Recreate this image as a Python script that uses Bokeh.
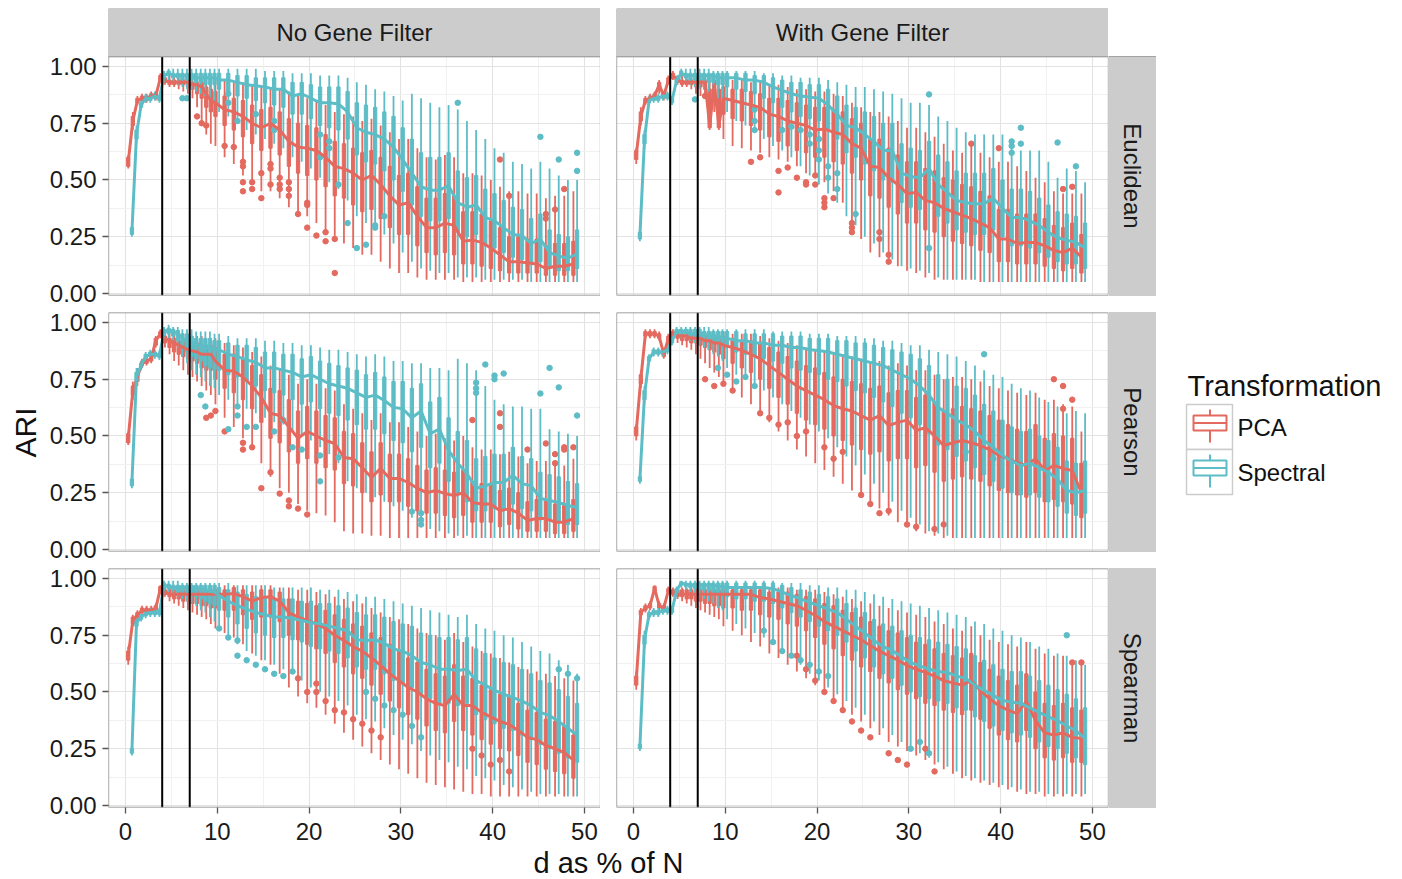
import math
from bokeh.plotting import figure
from bokeh.layouts import row, column
from bokeh.models import Range1d, FixedTicker, PrintfTickFormatter, ColumnDataSource, Spacer
from bokeh.transform import dodge
from bokeh.core.properties import value
from bokeh.embed import file_html
from bokeh.resources import INLINE

FONT = "Liberation Sans"
COL_PCA = "#E4695F"
COL_SPEC = "#5DBDC6"

# ---------------- data ----------------
X_POS = [0.5, 1, 1.5, 2, 2.5, 3, 3.5, 4, 4.5, 5, 5.5, 6, 6.5, 7, 7.5, 8, 8.5, 9, 9.5,
         10, 11, 12, 13, 14, 15, 16, 17, 18, 19,
         20, 21, 22, 23, 24, 25, 26, 27, 28, 29,
         30, 31, 32, 33, 34, 35, 36, 37, 38, 39,
         40, 41, 42, 43, 44, 45, 46, 47, 48, 49]
VLINES = [4, 7]
X_TICKS = [0, 10, 20, 30, 40, 50]
X_MINOR = [5, 15, 25, 35, 45]
Y_TICKS = [0.0, 0.25, 0.5, 0.75, 1.0]
Y_MINOR = [0.125, 0.375, 0.625, 0.875]
FILTERS = ["No Gene Filter", "With Gene Filter"]
DISTANCES = ["Euclidean", "Pearson", "Spearman"]
SERIES = ["PCA", "Spectral"]

# ---- No Gene Filter / Euclidean ----
nf_euc_pca_med = [0.58, 0.76, 0.85, 0.86, 0.86, 0.87, 0.87, 0.95, 0.94, 0.93, 0.93, 0.93, 0.93, 0.93, 0.92, 0.92, 0.91, 0.88, 0.85,
    0.84, 0.81, 0.80, 0.78, 0.75, 0.73, 0.75, 0.72, 0.67, 0.645,
    0.64, 0.63, 0.60, 0.56, 0.55, 0.53, 0.50, 0.52, 0.48, 0.43,
    0.39, 0.40, 0.34, 0.29, 0.29, 0.31, 0.30, 0.23, 0.235, 0.225,
    0.20, 0.17, 0.14, 0.14, 0.135, 0.13, 0.11, 0.12, 0.12, 0.13]
nf_euc_pca_q1 = [0.56, 0.74, 0.84, 0.85, 0.85, 0.86, 0.86, 0.94, 0.93, 0.92, 0.92, 0.92, 0.92, 0.91, 0.90, 0.88, 0.86, 0.82, 0.80,
    0.78, 0.74, 0.72, 0.69, 0.66, 0.63, 0.64, 0.61, 0.56, 0.53,
    0.52, 0.50, 0.47, 0.43, 0.42, 0.39, 0.36, 0.37, 0.33, 0.29,
    0.26, 0.26, 0.21, 0.18, 0.17, 0.18, 0.17, 0.13, 0.13, 0.12,
    0.11, 0.10, 0.09, 0.09, 0.09, 0.09, 0.08, 0.08, 0.08, 0.08]
nf_euc_pca_q3 = [0.60, 0.78, 0.86, 0.87, 0.87, 0.88, 0.88, 0.96, 0.95, 0.94, 0.94, 0.94, 0.94, 0.94, 0.93, 0.93, 0.93, 0.91, 0.90,
    0.89, 0.87, 0.86, 0.85, 0.83, 0.81, 0.82, 0.80, 0.77, 0.75,
    0.74, 0.73, 0.70, 0.67, 0.66, 0.64, 0.62, 0.63, 0.60, 0.56,
    0.52, 0.53, 0.47, 0.42, 0.42, 0.44, 0.43, 0.36, 0.36, 0.35,
    0.32, 0.29, 0.25, 0.25, 0.24, 0.24, 0.21, 0.22, 0.22, 0.23]
nf_euc_pca_lo = [0.55, 0.72, 0.83, 0.84, 0.84, 0.85, 0.85, 0.93, 0.92, 0.91, 0.91, 0.90, 0.89, 0.88, 0.86, 0.82, 0.76, 0.70, 0.66,
    0.65, 0.60, 0.57, 0.52, 0.48, 0.45, 0.45, 0.42, 0.38, 0.35,
    0.34, 0.31, 0.28, 0.25, 0.22, 0.20, 0.17, 0.17, 0.14, 0.11,
    0.09, 0.09, 0.07, 0.06, 0.06, 0.06, 0.06, 0.05, 0.05, 0.05,
    0.05, 0.05, 0.05, 0.05, 0.05, 0.05, 0.05, 0.05, 0.05, 0.05]
nf_euc_pca_hi = [0.61, 0.80, 0.87, 0.88, 0.88, 0.89, 0.89, 0.97, 0.96, 0.96, 0.96, 0.96, 0.96, 0.95, 0.95, 0.95, 0.95, 0.95, 0.95,
    0.95, 0.94, 0.93, 0.93, 0.92, 0.91, 0.91, 0.90, 0.89, 0.87,
    0.86, 0.85, 0.83, 0.80, 0.79, 0.78, 0.76, 0.77, 0.74, 0.71,
    0.68, 0.68, 0.64, 0.60, 0.59, 0.61, 0.60, 0.53, 0.53, 0.52,
    0.50, 0.47, 0.45, 0.45, 0.44, 0.44, 0.42, 0.43, 0.43, 0.45]
nf_euc_pca_out_x = [8, 8.5, 9, 11, 12, 13, 13, 13, 13, 14, 14, 15, 15, 16, 16, 16, 17, 17, 17, 18, 18, 18, 19, 20, 20, 20, 21, 22, 22, 23, 23, 41, 42, 46, 46, 47, 48]
nf_euc_pca_out_y = [0.78, 0.75, 0.74, 0.65, 0.645, 0.58, 0.56, 0.49, 0.45, 0.49, 0.46, 0.53, 0.42, 0.57, 0.55, 0.48, 0.51, 0.48, 0.46, 0.49, 0.46, 0.43, 0.35, 0.40, 0.39, 0.29, 0.255, 0.27, 0.23, 0.24, 0.09, 0.59, 0.43, 0.35, 0.33, 0.37, 0.46]

nf_euc_spec_med = [0.27, 0.70, 0.83, 0.86, 0.86, 0.87, 0.86, 0.96, 0.97, 0.96, 0.96, 0.96, 0.96, 0.96, 0.95, 0.95, 0.95, 0.95, 0.95,
    0.94, 0.94, 0.93, 0.92, 0.915, 0.91, 0.90, 0.90, 0.87, 0.88,
    0.86, 0.84, 0.84, 0.835, 0.80, 0.73, 0.71, 0.70, 0.68, 0.645,
    0.59, 0.53, 0.47, 0.455, 0.455, 0.475, 0.40, 0.38, 0.39, 0.335,
    0.32, 0.29, 0.26, 0.255, 0.22, 0.24, 0.18, 0.165, 0.155, 0.175]
nf_euc_spec_q1 = [0.26, 0.68, 0.82, 0.85, 0.85, 0.86, 0.85, 0.95, 0.96, 0.95, 0.95, 0.94, 0.94, 0.94, 0.93, 0.93, 0.92, 0.92, 0.92,
    0.90, 0.89, 0.87, 0.86, 0.85, 0.84, 0.83, 0.82, 0.79, 0.79,
    0.77, 0.74, 0.73, 0.72, 0.68, 0.61, 0.58, 0.57, 0.54, 0.50,
    0.45, 0.39, 0.34, 0.32, 0.32, 0.33, 0.27, 0.25, 0.26, 0.21,
    0.20, 0.18, 0.16, 0.15, 0.13, 0.14, 0.11, 0.10, 0.10, 0.11]
nf_euc_spec_q3 = [0.29, 0.72, 0.84, 0.87, 0.87, 0.88, 0.87, 0.97, 0.98, 0.97, 0.97, 0.97, 0.97, 0.97, 0.97, 0.97, 0.97, 0.97, 0.97,
    0.97, 0.97, 0.96, 0.96, 0.95, 0.95, 0.95, 0.95, 0.93, 0.93,
    0.92, 0.91, 0.91, 0.91, 0.89, 0.84, 0.83, 0.82, 0.80, 0.78,
    0.73, 0.68, 0.62, 0.60, 0.60, 0.62, 0.54, 0.51, 0.52, 0.46,
    0.44, 0.41, 0.38, 0.37, 0.33, 0.35, 0.28, 0.26, 0.25, 0.28]
nf_euc_spec_lo = [0.25, 0.66, 0.81, 0.84, 0.84, 0.85, 0.84, 0.93, 0.94, 0.93, 0.92, 0.91, 0.90, 0.90, 0.89, 0.88, 0.87, 0.86, 0.84,
    0.80, 0.78, 0.75, 0.72, 0.70, 0.68, 0.66, 0.64, 0.60, 0.58,
    0.55, 0.51, 0.49, 0.46, 0.41, 0.34, 0.31, 0.29, 0.26, 0.22,
    0.18, 0.14, 0.11, 0.10, 0.09, 0.09, 0.07, 0.07, 0.07, 0.06,
    0.06, 0.06, 0.06, 0.06, 0.05, 0.05, 0.05, 0.05, 0.05, 0.05]
nf_euc_spec_hi = [0.30, 0.74, 0.85, 0.88, 0.88, 0.89, 0.88, 0.98, 0.99, 0.99, 0.99, 0.99, 0.99, 0.99, 0.99, 0.99, 0.99, 0.99, 0.99,
    0.99, 0.99, 0.99, 0.99, 0.99, 0.98, 0.98, 0.98, 0.97, 0.97,
    0.97, 0.96, 0.96, 0.96, 0.95, 0.93, 0.92, 0.90, 0.89, 0.87,
    0.85, 0.88, 0.86, 0.84, 0.82, 0.83, 0.81, 0.76, 0.72, 0.68,
    0.64, 0.62, 0.58, 0.57, 0.55, 0.58, 0.55, 0.52, 0.50, 0.50]
nf_euc_spec_out_x = [6, 6.5, 11, 11, 12, 14, 16, 16, 21, 21, 22, 22, 23, 24, 25, 26, 27, 27, 28, 36, 45, 47, 49, 49]
nf_euc_spec_out_y = [0.86, 0.86, 0.88, 0.84, 0.76, 0.79, 0.76, 0.72, 0.70, 0.60, 0.67, 0.64, 0.48, 0.31, 0.20, 0.215, 0.30, 0.29, 0.34, 0.84, 0.69, 0.59, 0.62, 0.54]

# ---- With Gene Filter / Euclidean ----
wf_euc_pca_med = [0.61, 0.78, 0.85, 0.86, 0.87, 0.92, 0.87, 0.94, 0.96, 0.94, 0.93, 0.93, 0.93, 0.93, 0.93, 0.93, 0.74, 0.92, 0.74,
    0.86, 0.85, 0.84, 0.83, 0.82, 0.79, 0.78, 0.76, 0.75, 0.74,
    0.72, 0.725, 0.71, 0.70, 0.66, 0.64, 0.56, 0.555, 0.51, 0.48,
    0.44, 0.445, 0.41, 0.40, 0.375, 0.36, 0.345, 0.33, 0.31, 0.29,
    0.24, 0.24, 0.22, 0.225, 0.225, 0.21, 0.19, 0.18, 0.20, 0.16]
wf_euc_pca_q1 = [0.59, 0.76, 0.84, 0.85, 0.86, 0.90, 0.86, 0.93, 0.95, 0.93, 0.92, 0.92, 0.92, 0.91, 0.91, 0.90, 0.73, 0.88, 0.73,
    0.79, 0.77, 0.76, 0.74, 0.72, 0.69, 0.67, 0.65, 0.63, 0.62,
    0.60, 0.60, 0.58, 0.57, 0.53, 0.50, 0.43, 0.42, 0.38, 0.35,
    0.31, 0.31, 0.28, 0.27, 0.25, 0.23, 0.22, 0.21, 0.19, 0.18,
    0.14, 0.14, 0.13, 0.13, 0.13, 0.12, 0.11, 0.10, 0.11, 0.09]
wf_euc_pca_q3 = [0.63, 0.80, 0.86, 0.87, 0.88, 0.93, 0.88, 0.95, 0.97, 0.95, 0.94, 0.94, 0.94, 0.94, 0.94, 0.94, 0.90, 0.94, 0.90,
    0.91, 0.90, 0.90, 0.89, 0.88, 0.86, 0.86, 0.85, 0.84, 0.83,
    0.82, 0.82, 0.81, 0.80, 0.77, 0.75, 0.68, 0.68, 0.64, 0.61,
    0.58, 0.58, 0.55, 0.54, 0.51, 0.50, 0.48, 0.47, 0.45, 0.43,
    0.37, 0.37, 0.35, 0.35, 0.35, 0.33, 0.30, 0.29, 0.31, 0.26]
wf_euc_pca_lo = [0.57, 0.74, 0.83, 0.84, 0.85, 0.88, 0.85, 0.92, 0.94, 0.92, 0.91, 0.91, 0.90, 0.88, 0.87, 0.86, 0.72, 0.80, 0.72,
    0.68, 0.65, 0.64, 0.63, 0.62, 0.60, 0.59, 0.58, 0.56, 0.53,
    0.51, 0.49, 0.45, 0.40, 0.30, 0.24, 0.18, 0.16, 0.14, 0.12,
    0.10, 0.09, 0.07, 0.06, 0.06, 0.06, 0.06, 0.06, 0.05, 0.05,
    0.05, 0.05, 0.05, 0.05, 0.05, 0.05, 0.05, 0.05, 0.05, 0.05]
wf_euc_pca_hi = [0.64, 0.82, 0.87, 0.88, 0.89, 0.94, 0.89, 0.96, 0.98, 0.96, 0.96, 0.96, 0.96, 0.96, 0.96, 0.96, 0.95, 0.96, 0.95,
    0.95, 0.94, 0.94, 0.93, 0.93, 0.92, 0.92, 0.91, 0.90, 0.90,
    0.89, 0.89, 0.88, 0.87, 0.84, 0.82, 0.80, 0.80, 0.78, 0.76,
    0.73, 0.73, 0.71, 0.69, 0.66, 0.63, 0.62, 0.66, 0.62, 0.60,
    0.58, 0.58, 0.56, 0.54, 0.51, 0.49, 0.45, 0.44, 0.44, 0.44]
wf_euc_pca_out_x = [8, 13, 14, 16, 16, 17, 18, 19, 19, 20, 20, 21, 21, 21, 22, 24, 24, 24, 27, 27, 28, 28, 37, 40, 47, 48]
wf_euc_pca_out_y = [0.87, 0.58, 0.60, 0.54, 0.445, 0.555, 0.51, 0.49, 0.48, 0.52, 0.48, 0.42, 0.40, 0.38, 0.42, 0.31, 0.29, 0.27, 0.27, 0.24, 0.17, 0.14, 0.66, 0.64, 0.46, 0.47]

wf_euc_spec_med = [0.255, 0.68, 0.85, 0.86, 0.86, 0.87, 0.87, 0.85, 0.94, 0.97, 0.96, 0.96, 0.96, 0.96, 0.96, 0.96, 0.96, 0.95, 0.95,
    0.95, 0.95, 0.94, 0.94, 0.93, 0.91, 0.895, 0.88, 0.87, 0.865,
    0.86, 0.83, 0.79, 0.74, 0.73, 0.70, 0.67, 0.63, 0.63, 0.53,
    0.515, 0.51, 0.55, 0.48, 0.445, 0.41, 0.40, 0.395, 0.395, 0.42,
    0.375, 0.335, 0.335, 0.32, 0.30, 0.27, 0.245, 0.235, 0.225, 0.20]
wf_euc_spec_q1 = [0.24, 0.66, 0.84, 0.85, 0.85, 0.86, 0.86, 0.84, 0.93, 0.96, 0.95, 0.94, 0.94, 0.94, 0.94, 0.93, 0.93, 0.92, 0.92,
    0.91, 0.90, 0.89, 0.88, 0.86, 0.84, 0.82, 0.80, 0.78, 0.77,
    0.76, 0.72, 0.68, 0.62, 0.60, 0.57, 0.54, 0.50, 0.49, 0.40,
    0.38, 0.37, 0.41, 0.34, 0.31, 0.28, 0.27, 0.26, 0.26, 0.28,
    0.25, 0.21, 0.21, 0.20, 0.18, 0.16, 0.14, 0.13, 0.13, 0.11]
wf_euc_spec_q3 = [0.27, 0.70, 0.86, 0.87, 0.87, 0.88, 0.88, 0.86, 0.95, 0.98, 0.97, 0.97, 0.97, 0.97, 0.97, 0.97, 0.97, 0.97, 0.97,
    0.97, 0.97, 0.97, 0.96, 0.96, 0.95, 0.94, 0.93, 0.93, 0.92,
    0.92, 0.90, 0.87, 0.83, 0.82, 0.80, 0.78, 0.75, 0.75, 0.66,
    0.64, 0.63, 0.67, 0.61, 0.58, 0.54, 0.53, 0.53, 0.53, 0.55,
    0.50, 0.46, 0.46, 0.45, 0.42, 0.39, 0.36, 0.35, 0.34, 0.31]
wf_euc_spec_lo = [0.23, 0.64, 0.83, 0.84, 0.84, 0.85, 0.85, 0.83, 0.92, 0.94, 0.93, 0.92, 0.91, 0.90, 0.90, 0.89, 0.88, 0.86, 0.84,
    0.80, 0.76, 0.74, 0.71, 0.68, 0.65, 0.63, 0.60, 0.56, 0.52,
    0.48, 0.44, 0.40, 0.34, 0.30, 0.25, 0.22, 0.18, 0.15, 0.12,
    0.11, 0.10, 0.09, 0.07, 0.06, 0.06, 0.06, 0.06, 0.05, 0.05,
    0.05, 0.05, 0.05, 0.05, 0.05, 0.05, 0.05, 0.05, 0.05, 0.05]
wf_euc_spec_hi = [0.28, 0.72, 0.87, 0.88, 0.88, 0.89, 0.89, 0.87, 0.96, 0.99, 0.99, 0.99, 0.99, 0.99, 0.99, 0.99, 0.98, 0.98, 0.98,
    0.98, 0.98, 0.98, 0.98, 0.97, 0.97, 0.96, 0.96, 0.95, 0.95,
    0.95, 0.94, 0.93, 0.92, 0.91, 0.91, 0.90, 0.89, 0.88, 0.86,
    0.84, 0.84, 0.83, 0.78, 0.76, 0.73, 0.71, 0.70, 0.70, 0.70,
    0.70, 0.66, 0.63, 0.63, 0.63, 0.58, 0.51, 0.55, 0.54, 0.49]
wf_euc_spec_out_x = [6.5, 13, 13, 13, 16, 17, 18, 19, 19, 20, 20, 20, 21, 21, 22, 22, 24, 32, 32, 41, 41, 41, 42, 42, 46, 48]
wf_euc_spec_out_y = [0.855, 0.81, 0.76, 0.72, 0.72, 0.735, 0.72, 0.70, 0.66, 0.68, 0.63, 0.59, 0.56, 0.51, 0.53, 0.46, 0.35, 0.20, 0.877, 0.67, 0.65, 0.62, 0.73, 0.66, 0.665, 0.56]

# ---- No Gene Filter / Pearson ----
nf_pea_pca_med = [0.49, 0.70, 0.76, 0.82, 0.83, 0.84, 0.92, 0.95, 0.93, 0.92, 0.91, 0.90, 0.89, 0.88, 0.875, 0.87, 0.86, 0.86, 0.86,
    0.83, 0.79, 0.785, 0.76, 0.72, 0.67, 0.60, 0.59, 0.54, 0.49,
    0.52, 0.50, 0.48, 0.467, 0.405, 0.40, 0.36, 0.317, 0.357, 0.313,
    0.313, 0.295, 0.27, 0.25, 0.26, 0.246, 0.238, 0.25, 0.207, 0.20,
    0.20, 0.17, 0.18, 0.16, 0.128, 0.136, 0.136, 0.12, 0.12, 0.136]
nf_pea_pca_q1 = [0.47, 0.68, 0.74, 0.81, 0.82, 0.83, 0.90, 0.94, 0.91, 0.89, 0.87, 0.86, 0.85, 0.84, 0.83, 0.82, 0.80, 0.79, 0.79,
    0.75, 0.71, 0.69, 0.66, 0.62, 0.56, 0.49, 0.47, 0.43, 0.38,
    0.40, 0.38, 0.36, 0.35, 0.29, 0.28, 0.25, 0.21, 0.24, 0.21,
    0.21, 0.19, 0.17, 0.16, 0.16, 0.15, 0.14, 0.15, 0.12, 0.12,
    0.12, 0.10, 0.11, 0.09, 0.08, 0.08, 0.08, 0.07, 0.07, 0.08]
nf_pea_pca_q3 = [0.51, 0.72, 0.78, 0.83, 0.84, 0.85, 0.93, 0.96, 0.94, 0.93, 0.93, 0.92, 0.92, 0.91, 0.91, 0.91, 0.90, 0.90, 0.90,
    0.89, 0.86, 0.86, 0.84, 0.81, 0.77, 0.71, 0.70, 0.66, 0.61,
    0.63, 0.61, 0.59, 0.58, 0.52, 0.51, 0.47, 0.43, 0.47, 0.42,
    0.42, 0.40, 0.37, 0.35, 0.36, 0.35, 0.34, 0.35, 0.30, 0.29,
    0.29, 0.26, 0.27, 0.25, 0.21, 0.22, 0.22, 0.20, 0.20, 0.22]
nf_pea_pca_lo = [0.46, 0.66, 0.72, 0.80, 0.81, 0.82, 0.89, 0.93, 0.89, 0.86, 0.83, 0.81, 0.79, 0.77, 0.76, 0.74, 0.72, 0.70, 0.68,
    0.64, 0.58, 0.54, 0.49, 0.44, 0.38, 0.32, 0.27, 0.25, 0.20,
    0.17, 0.16, 0.15, 0.12, 0.08, 0.07, 0.07, 0.06, 0.06, 0.05,
    0.05, 0.05, 0.05, 0.05, 0.05, 0.05, 0.05, 0.05, 0.05, 0.05,
    0.05, 0.05, 0.05, 0.05, 0.05, 0.05, 0.05, 0.05, 0.05, 0.05]
nf_pea_pca_hi = [0.52, 0.74, 0.80, 0.84, 0.85, 0.86, 0.94, 0.97, 0.96, 0.95, 0.95, 0.95, 0.95, 0.94, 0.94, 0.94, 0.94, 0.93, 0.93,
    0.93, 0.91, 0.90, 0.89, 0.87, 0.85, 0.81, 0.80, 0.77, 0.73,
    0.75, 0.73, 0.71, 0.70, 0.64, 0.62, 0.60, 0.57, 0.60, 0.56,
    0.56, 0.54, 0.52, 0.50, 0.51, 0.49, 0.48, 0.50, 0.45, 0.44,
    0.44, 0.42, 0.43, 0.41, 0.38, 0.39, 0.39, 0.37, 0.37, 0.40]
nf_pea_pca_out_x = [9, 9.5, 10, 11, 13, 13, 14, 15, 16, 17, 18, 18, 19, 20, 38, 41, 41, 44, 46, 47, 47, 48, 48, 49]
nf_pea_pca_out_y = [0.58, 0.59, 0.61, 0.52, 0.47, 0.44, 0.45, 0.27, 0.34, 0.246, 0.216, 0.19, 0.18, 0.154, 0.57, 0.60, 0.54, 0.44, 0.467, 0.42, 0.38, 0.45, 0.44, 0.45]

nf_pea_spec_med = [0.295, 0.76, 0.81, 0.85, 0.86, 0.86, 0.855, 0.96, 0.965, 0.96, 0.95, 0.93, 0.92, 0.905, 0.90, 0.90, 0.89, 0.89, 0.88,
    0.88, 0.86, 0.85, 0.835, 0.825, 0.80, 0.80, 0.79, 0.78, 0.76,
    0.77, 0.75, 0.73, 0.72, 0.71, 0.69, 0.67, 0.68, 0.656, 0.626,
    0.62, 0.58, 0.61, 0.51, 0.53, 0.436, 0.38, 0.335, 0.27, 0.28,
    0.295, 0.295, 0.326, 0.29, 0.28, 0.225, 0.216, 0.207, 0.194, 0.185]
nf_pea_spec_q1 = [0.28, 0.74, 0.80, 0.84, 0.85, 0.85, 0.845, 0.95, 0.95, 0.94, 0.92, 0.89, 0.87, 0.85, 0.84, 0.83, 0.81, 0.80, 0.79,
    0.79, 0.77, 0.76, 0.74, 0.72, 0.70, 0.69, 0.68, 0.66, 0.64,
    0.65, 0.62, 0.60, 0.59, 0.57, 0.55, 0.53, 0.53, 0.51, 0.48,
    0.47, 0.43, 0.45, 0.36, 0.38, 0.30, 0.25, 0.21, 0.17, 0.17,
    0.18, 0.18, 0.20, 0.18, 0.17, 0.13, 0.13, 0.12, 0.11, 0.11]
nf_pea_spec_q3 = [0.31, 0.78, 0.82, 0.86, 0.87, 0.87, 0.865, 0.97, 0.975, 0.97, 0.965, 0.95, 0.95, 0.94, 0.93, 0.93, 0.93, 0.93, 0.92,
    0.92, 0.91, 0.90, 0.90, 0.89, 0.87, 0.87, 0.86, 0.86, 0.84,
    0.85, 0.83, 0.82, 0.81, 0.80, 0.79, 0.77, 0.78, 0.76, 0.74,
    0.74, 0.71, 0.73, 0.65, 0.67, 0.58, 0.52, 0.48, 0.40, 0.41,
    0.42, 0.42, 0.45, 0.41, 0.40, 0.34, 0.33, 0.32, 0.30, 0.29]
nf_pea_spec_lo = [0.27, 0.72, 0.79, 0.83, 0.84, 0.84, 0.835, 0.93, 0.93, 0.92, 0.89, 0.85, 0.82, 0.79, 0.77, 0.76, 0.74, 0.72, 0.71,
    0.68, 0.66, 0.64, 0.62, 0.60, 0.58, 0.56, 0.55, 0.52, 0.50,
    0.48, 0.45, 0.42, 0.38, 0.30, 0.27, 0.25, 0.23, 0.21, 0.19,
    0.17, 0.14, 0.12, 0.09, 0.08, 0.07, 0.06, 0.06, 0.05, 0.05,
    0.05, 0.05, 0.05, 0.05, 0.05, 0.05, 0.05, 0.05, 0.05, 0.05]
nf_pea_spec_hi = [0.32, 0.80, 0.83, 0.87, 0.88, 0.88, 0.875, 0.98, 0.99, 0.98, 0.98, 0.97, 0.97, 0.97, 0.96, 0.96, 0.96, 0.96, 0.95,
    0.95, 0.94, 0.93, 0.93, 0.93, 0.92, 0.92, 0.91, 0.91, 0.90,
    0.90, 0.89, 0.88, 0.88, 0.87, 0.86, 0.85, 0.86, 0.85, 0.83,
    0.83, 0.82, 0.82, 0.80, 0.80, 0.79, 0.84, 0.82, 0.79, 0.72,
    0.66, 0.64, 0.63, 0.63, 0.62, 0.62, 0.53, 0.52, 0.51, 0.50]
nf_pea_spec_out_x = [8, 8.5, 11, 12, 12, 13, 14, 16, 17, 18, 19, 21, 21, 23, 31, 32, 32, 32, 38, 38, 38, 39, 40, 40, 41, 45, 46, 47, 49]
nf_pea_spec_out_y = [0.68, 0.63, 0.53, 0.63, 0.59, 0.54, 0.54, 0.52, 0.57, 0.45, 0.44, 0.414, 0.30, 0.405, 0.167, 0.16, 0.13, 0.11, 0.735, 0.71, 0.69, 0.815, 0.766, 0.75, 0.775, 0.687, 0.80, 0.714, 0.59]

# ---- With Gene Filter / Pearson ----
wf_pea_pca_med = [0.52, 0.75, 0.95, 0.95, 0.95, 0.94, 0.86, 0.93, 0.95, 0.94, 0.94, 0.94, 0.93, 0.93, 0.93, 0.92, 0.92, 0.91, 0.91,
    0.90, 0.89, 0.877, 0.86, 0.84, 0.81, 0.78, 0.75, 0.72, 0.70,
    0.68, 0.66, 0.634, 0.62, 0.61, 0.59, 0.57, 0.59, 0.546, 0.56,
    0.57, 0.524, 0.537, 0.50, 0.458, 0.47, 0.48, 0.47, 0.458, 0.44,
    0.414, 0.40, 0.383, 0.37, 0.40, 0.348, 0.37, 0.357, 0.348, 0.25]
wf_pea_pca_q1 = [0.50, 0.73, 0.94, 0.94, 0.94, 0.93, 0.85, 0.92, 0.94, 0.93, 0.92, 0.92, 0.91, 0.91, 0.90, 0.89, 0.88, 0.87, 0.86,
    0.84, 0.82, 0.80, 0.78, 0.75, 0.71, 0.67, 0.64, 0.60, 0.57,
    0.55, 0.53, 0.50, 0.48, 0.46, 0.44, 0.42, 0.43, 0.39, 0.40,
    0.40, 0.36, 0.37, 0.34, 0.30, 0.31, 0.32, 0.31, 0.30, 0.28,
    0.26, 0.25, 0.24, 0.23, 0.25, 0.21, 0.22, 0.21, 0.20, 0.14]
wf_pea_pca_q3 = [0.54, 0.77, 0.96, 0.96, 0.96, 0.95, 0.87, 0.94, 0.96, 0.95, 0.95, 0.95, 0.95, 0.95, 0.95, 0.94, 0.94, 0.94, 0.94,
    0.94, 0.93, 0.92, 0.92, 0.91, 0.89, 0.87, 0.85, 0.83, 0.81,
    0.80, 0.78, 0.76, 0.75, 0.74, 0.73, 0.71, 0.72, 0.69, 0.70,
    0.70, 0.67, 0.68, 0.65, 0.61, 0.62, 0.63, 0.62, 0.61, 0.59,
    0.57, 0.55, 0.53, 0.52, 0.55, 0.49, 0.51, 0.50, 0.49, 0.38]
wf_pea_pca_lo = [0.48, 0.71, 0.93, 0.93, 0.93, 0.92, 0.84, 0.90, 0.92, 0.91, 0.90, 0.89, 0.88, 0.86, 0.84, 0.82, 0.80, 0.78, 0.76,
    0.73, 0.70, 0.67, 0.64, 0.60, 0.56, 0.52, 0.48, 0.44, 0.41,
    0.38, 0.35, 0.32, 0.29, 0.26, 0.23, 0.20, 0.18, 0.15, 0.12,
    0.10, 0.08, 0.07, 0.06, 0.05, 0.05, 0.05, 0.05, 0.05, 0.05,
    0.05, 0.05, 0.05, 0.05, 0.05, 0.05, 0.05, 0.05, 0.05, 0.05]
wf_pea_pca_hi = [0.55, 0.79, 0.97, 0.97, 0.97, 0.96, 0.88, 0.95, 0.97, 0.97, 0.97, 0.97, 0.97, 0.96, 0.96, 0.96, 0.96, 0.96, 0.96,
    0.96, 0.95, 0.95, 0.95, 0.94, 0.93, 0.92, 0.91, 0.90, 0.89,
    0.88, 0.87, 0.86, 0.86, 0.85, 0.84, 0.83, 0.83, 0.81, 0.82,
    0.81, 0.79, 0.79, 0.77, 0.75, 0.76, 0.76, 0.75, 0.74, 0.72,
    0.71, 0.70, 0.69, 0.68, 0.69, 0.66, 0.66, 0.64, 0.63, 0.52]
wf_pea_pca_out_x = [8, 9, 10, 11, 14, 15, 16, 17, 18, 19, 21, 22, 23, 25, 26, 27, 28, 30, 31, 33, 34, 46, 47, 47, 48]
wf_pea_pca_out_y = [0.75, 0.72, 0.73, 0.70, 0.60, 0.58, 0.55, 0.56, 0.50, 0.52, 0.45, 0.40, 0.43, 0.24, 0.20, 0.16, 0.17, 0.11, 0.10, 0.09, 0.11, 0.75, 0.72, 0.62, 0.66]

wf_pea_spec_med = [0.31, 0.68, 0.84, 0.87, 0.87, 0.87, 0.88, 0.92, 0.96, 0.96, 0.96, 0.95, 0.95, 0.95, 0.95, 0.94, 0.94, 0.94, 0.93,
    0.93, 0.92, 0.92, 0.91, 0.91, 0.90, 0.90, 0.89, 0.89, 0.88,
    0.877, 0.87, 0.86, 0.85, 0.84, 0.83, 0.82, 0.81, 0.79, 0.77,
    0.75, 0.72, 0.68, 0.625, 0.60, 0.57, 0.55, 0.52, 0.48, 0.45,
    0.414, 0.39, 0.37, 0.38, 0.36, 0.34, 0.31, 0.26, 0.25, 0.26]
wf_pea_spec_q1 = [0.30, 0.66, 0.83, 0.86, 0.86, 0.86, 0.87, 0.91, 0.95, 0.95, 0.95, 0.94, 0.93, 0.93, 0.93, 0.92, 0.91, 0.91, 0.90,
    0.89, 0.87, 0.86, 0.85, 0.84, 0.83, 0.82, 0.80, 0.79, 0.78,
    0.77, 0.75, 0.74, 0.72, 0.70, 0.69, 0.67, 0.65, 0.63, 0.60,
    0.58, 0.55, 0.51, 0.46, 0.44, 0.41, 0.39, 0.36, 0.33, 0.30,
    0.27, 0.25, 0.24, 0.24, 0.23, 0.21, 0.19, 0.16, 0.15, 0.16]
wf_pea_spec_q3 = [0.32, 0.70, 0.85, 0.88, 0.88, 0.88, 0.89, 0.93, 0.97, 0.97, 0.97, 0.97, 0.97, 0.97, 0.96, 0.96, 0.96, 0.96, 0.96,
    0.96, 0.96, 0.95, 0.95, 0.95, 0.95, 0.94, 0.94, 0.94, 0.93,
    0.93, 0.93, 0.92, 0.92, 0.91, 0.91, 0.90, 0.89, 0.88, 0.87,
    0.86, 0.84, 0.81, 0.77, 0.75, 0.72, 0.71, 0.68, 0.64, 0.61,
    0.57, 0.54, 0.52, 0.53, 0.50, 0.48, 0.45, 0.39, 0.38, 0.39]
wf_pea_spec_lo = [0.29, 0.64, 0.82, 0.85, 0.85, 0.85, 0.86, 0.90, 0.94, 0.93, 0.93, 0.92, 0.91, 0.90, 0.89, 0.88, 0.86, 0.85, 0.83,
    0.80, 0.77, 0.75, 0.72, 0.70, 0.67, 0.64, 0.61, 0.58, 0.55,
    0.52, 0.49, 0.45, 0.41, 0.37, 0.33, 0.29, 0.25, 0.21, 0.17,
    0.14, 0.11, 0.08, 0.07, 0.06, 0.05, 0.05, 0.05, 0.05, 0.05,
    0.05, 0.05, 0.05, 0.05, 0.05, 0.05, 0.05, 0.05, 0.05, 0.05]
wf_pea_spec_hi = [0.33, 0.72, 0.86, 0.89, 0.89, 0.89, 0.90, 0.94, 0.98, 0.98, 0.98, 0.98, 0.98, 0.98, 0.98, 0.98, 0.97, 0.97, 0.97,
    0.97, 0.97, 0.97, 0.97, 0.97, 0.96, 0.96, 0.96, 0.96, 0.95,
    0.95, 0.95, 0.94, 0.94, 0.94, 0.93, 0.93, 0.92, 0.92, 0.91,
    0.90, 0.90, 0.88, 0.87, 0.86, 0.85, 0.83, 0.81, 0.79, 0.77,
    0.76, 0.73, 0.71, 0.70, 0.67, 0.65, 0.63, 0.60, 0.61, 0.60]
wf_pea_spec_out_x = [9, 10, 11, 12, 13, 36, 38, 39]
wf_pea_spec_out_y = [0.80, 0.77, 0.74, 0.76, 0.72, 0.43, 0.86, 0.40]

# ---- No Gene Filter / Spearman ----
nf_spe_pca_med = [0.66, 0.815, 0.84, 0.86, 0.86, 0.86, 0.87, 0.955, 0.94, 0.93, 0.93, 0.93, 0.93, 0.93, 0.93, 0.93, 0.93, 0.93, 0.93,
    0.93, 0.93, 0.934, 0.92, 0.90, 0.916, 0.92, 0.90, 0.85, 0.83,
    0.815, 0.80, 0.78, 0.75, 0.727, 0.70, 0.68, 0.65, 0.617, 0.58,
    0.55, 0.52, 0.50, 0.47, 0.45, 0.44, 0.49, 0.44, 0.44, 0.41,
    0.39, 0.37, 0.357, 0.33, 0.30, 0.29, 0.264, 0.25, 0.233, 0.20]
nf_spe_pca_q1 = [0.64, 0.80, 0.83, 0.85, 0.85, 0.85, 0.86, 0.94, 0.93, 0.92, 0.91, 0.91, 0.90, 0.90, 0.89, 0.89, 0.88, 0.88, 0.87,
    0.87, 0.86, 0.86, 0.84, 0.82, 0.83, 0.83, 0.81, 0.75, 0.73,
    0.71, 0.69, 0.67, 0.63, 0.61, 0.58, 0.56, 0.53, 0.49, 0.46,
    0.43, 0.40, 0.38, 0.35, 0.33, 0.32, 0.37, 0.33, 0.31, 0.29,
    0.27, 0.25, 0.24, 0.22, 0.19, 0.18, 0.16, 0.15, 0.14, 0.12]
nf_spe_pca_q3 = [0.68, 0.83, 0.85, 0.87, 0.87, 0.87, 0.88, 0.965, 0.95, 0.95, 0.95, 0.95, 0.95, 0.95, 0.95, 0.95, 0.95, 0.95, 0.95,
    0.95, 0.95, 0.96, 0.95, 0.94, 0.95, 0.95, 0.94, 0.91, 0.90,
    0.89, 0.88, 0.86, 0.84, 0.82, 0.80, 0.79, 0.76, 0.74, 0.71,
    0.68, 0.65, 0.63, 0.60, 0.58, 0.57, 0.62, 0.57, 0.56, 0.53,
    0.51, 0.49, 0.48, 0.45, 0.42, 0.41, 0.38, 0.37, 0.35, 0.31]
nf_spe_pca_lo = [0.62, 0.79, 0.82, 0.84, 0.84, 0.84, 0.85, 0.93, 0.92, 0.90, 0.89, 0.88, 0.87, 0.86, 0.85, 0.84, 0.83, 0.82, 0.80,
    0.78, 0.76, 0.74, 0.71, 0.67, 0.64, 0.62, 0.58, 0.52, 0.48,
    0.45, 0.43, 0.40, 0.36, 0.32, 0.29, 0.26, 0.23, 0.20, 0.18,
    0.16, 0.14, 0.12, 0.10, 0.09, 0.08, 0.07, 0.06, 0.05, 0.05,
    0.04, 0.04, 0.04, 0.04, 0.04, 0.04, 0.04, 0.04, 0.04, 0.04]
nf_spe_pca_hi = [0.70, 0.84, 0.86, 0.88, 0.88, 0.88, 0.89, 0.97, 0.97, 0.97, 0.97, 0.97, 0.97, 0.97, 0.97, 0.97, 0.97, 0.97, 0.97,
    0.97, 0.97, 0.97, 0.97, 0.97, 0.97, 0.97, 0.96, 0.96, 0.95,
    0.95, 0.94, 0.93, 0.92, 0.91, 0.90, 0.89, 0.87, 0.85, 0.83,
    0.82, 0.80, 0.78, 0.76, 0.75, 0.73, 0.76, 0.72, 0.70, 0.68,
    0.67, 0.65, 0.63, 0.61, 0.60, 0.59, 0.58, 0.57, 0.56, 0.55]
nf_spe_pca_out_x = [19, 20, 21, 21, 22, 23, 24, 25, 26, 27, 28, 38, 39, 40, 41, 42]
nf_spe_pca_out_y = [0.56, 0.50, 0.537, 0.50, 0.46, 0.42, 0.41, 0.38, 0.36, 0.33, 0.30, 0.25, 0.22, 0.18, 0.20, 0.15]

nf_spe_spec_med = [0.24, 0.806, 0.83, 0.845, 0.85, 0.85, 0.85, 0.97, 0.965, 0.96, 0.96, 0.96, 0.96, 0.96, 0.96, 0.955, 0.95, 0.945, 0.94,
    0.925, 0.90, 0.88, 0.865, 0.85, 0.84, 0.83, 0.83, 0.824, 0.815,
    0.806, 0.80, 0.79, 0.78, 0.77, 0.73, 0.727, 0.73, 0.714, 0.69,
    0.68, 0.66, 0.63, 0.62, 0.60, 0.60, 0.595, 0.60, 0.55, 0.53,
    0.507, 0.49, 0.476, 0.46, 0.44, 0.41, 0.396, 0.37, 0.34, 0.31]
nf_spe_spec_q1 = [0.23, 0.79, 0.82, 0.835, 0.84, 0.84, 0.84, 0.96, 0.955, 0.95, 0.94, 0.94, 0.93, 0.93, 0.92, 0.91, 0.90, 0.89, 0.88,
    0.86, 0.83, 0.80, 0.78, 0.76, 0.75, 0.74, 0.74, 0.73, 0.72,
    0.70, 0.69, 0.68, 0.67, 0.65, 0.61, 0.60, 0.60, 0.58, 0.55,
    0.54, 0.52, 0.49, 0.47, 0.45, 0.45, 0.44, 0.45, 0.40, 0.38,
    0.36, 0.34, 0.33, 0.31, 0.29, 0.27, 0.25, 0.23, 0.21, 0.19]
nf_spe_spec_q3 = [0.25, 0.82, 0.84, 0.855, 0.86, 0.86, 0.86, 0.98, 0.975, 0.97, 0.97, 0.97, 0.97, 0.97, 0.97, 0.97, 0.97, 0.97, 0.97,
    0.96, 0.95, 0.94, 0.93, 0.92, 0.92, 0.91, 0.91, 0.91, 0.90,
    0.90, 0.89, 0.89, 0.88, 0.87, 0.85, 0.84, 0.84, 0.83, 0.81,
    0.80, 0.79, 0.76, 0.75, 0.74, 0.74, 0.73, 0.74, 0.69, 0.67,
    0.65, 0.63, 0.62, 0.60, 0.58, 0.55, 0.54, 0.51, 0.48, 0.45]
nf_spe_spec_lo = [0.22, 0.78, 0.81, 0.825, 0.83, 0.83, 0.83, 0.95, 0.94, 0.93, 0.92, 0.91, 0.90, 0.89, 0.88, 0.86, 0.85, 0.83, 0.81,
    0.78, 0.74, 0.71, 0.68, 0.66, 0.64, 0.62, 0.60, 0.58, 0.55,
    0.52, 0.50, 0.48, 0.46, 0.44, 0.40, 0.38, 0.37, 0.34, 0.31,
    0.29, 0.27, 0.24, 0.22, 0.20, 0.19, 0.17, 0.16, 0.13, 0.12,
    0.11, 0.09, 0.08, 0.07, 0.06, 0.05, 0.05, 0.05, 0.04, 0.04]
nf_spe_spec_hi = [0.26, 0.83, 0.85, 0.865, 0.87, 0.87, 0.87, 0.99, 0.99, 0.99, 0.99, 0.98, 0.98, 0.98, 0.98, 0.98, 0.98, 0.98, 0.98,
    0.98, 0.98, 0.97, 0.97, 0.97, 0.97, 0.96, 0.96, 0.96, 0.96,
    0.96, 0.95, 0.95, 0.95, 0.94, 0.93, 0.92, 0.92, 0.91, 0.90,
    0.89, 0.88, 0.87, 0.86, 0.85, 0.84, 0.83, 0.84, 0.80, 0.78,
    0.77, 0.75, 0.74, 0.72, 0.70, 0.68, 0.67, 0.64, 0.62, 0.58]
nf_spe_spec_out_x = [10, 11, 12, 12, 13, 14, 15, 16, 17, 18, 26, 27, 28, 29, 30, 31, 32, 47, 48, 49]
nf_spe_spec_out_y = [0.78, 0.74, 0.727, 0.66, 0.64, 0.62, 0.60, 0.58, 0.57, 0.59, 0.50, 0.47, 0.44, 0.42, 0.40, 0.35, 0.30, 0.60, 0.58, 0.56]

# ---- With Gene Filter / Spearman ----
wf_spe_pca_med = [0.55, 0.85, 0.87, 0.88, 0.956, 0.88, 0.87, 0.947, 0.94, 0.93, 0.93, 0.93, 0.93, 0.93, 0.93, 0.93, 0.93, 0.93, 0.93,
    0.93, 0.93, 0.93, 0.93, 0.916, 0.91, 0.90, 0.89, 0.88, 0.86,
    0.837, 0.81, 0.79, 0.77, 0.75, 0.73, 0.705, 0.68, 0.66, 0.64,
    0.617, 0.60, 0.586, 0.57, 0.55, 0.54, 0.53, 0.55, 0.507, 0.47,
    0.44, 0.42, 0.405, 0.46, 0.374, 0.32, 0.31, 0.32, 0.30, 0.295]
wf_spe_pca_q1 = [0.53, 0.84, 0.86, 0.87, 0.945, 0.87, 0.86, 0.94, 0.93, 0.92, 0.92, 0.91, 0.91, 0.90, 0.90, 0.89, 0.89, 0.88, 0.88,
    0.87, 0.87, 0.86, 0.86, 0.84, 0.83, 0.82, 0.80, 0.79, 0.77,
    0.74, 0.71, 0.69, 0.66, 0.64, 0.61, 0.59, 0.56, 0.54, 0.51,
    0.49, 0.47, 0.45, 0.44, 0.42, 0.41, 0.40, 0.42, 0.38, 0.34,
    0.31, 0.29, 0.28, 0.33, 0.25, 0.21, 0.20, 0.21, 0.19, 0.19]
wf_spe_pca_q3 = [0.57, 0.86, 0.88, 0.89, 0.965, 0.89, 0.88, 0.955, 0.95, 0.95, 0.95, 0.95, 0.95, 0.95, 0.95, 0.95, 0.95, 0.95, 0.95,
    0.95, 0.95, 0.95, 0.95, 0.95, 0.94, 0.94, 0.94, 0.93, 0.92,
    0.91, 0.89, 0.88, 0.86, 0.85, 0.83, 0.81, 0.79, 0.77, 0.76,
    0.74, 0.72, 0.71, 0.69, 0.67, 0.66, 0.65, 0.67, 0.63, 0.60,
    0.57, 0.55, 0.53, 0.58, 0.50, 0.45, 0.44, 0.45, 0.43, 0.42]
wf_spe_pca_lo = [0.51, 0.83, 0.85, 0.86, 0.94, 0.86, 0.85, 0.93, 0.92, 0.91, 0.90, 0.89, 0.88, 0.87, 0.86, 0.85, 0.84, 0.83, 0.82,
    0.79, 0.77, 0.75, 0.72, 0.70, 0.67, 0.65, 0.62, 0.59, 0.56,
    0.53, 0.50, 0.47, 0.43, 0.40, 0.37, 0.34, 0.31, 0.28, 0.26,
    0.24, 0.22, 0.20, 0.18, 0.16, 0.14, 0.12, 0.11, 0.10, 0.09,
    0.08, 0.07, 0.06, 0.05, 0.05, 0.04, 0.04, 0.04, 0.04, 0.04]
wf_spe_pca_hi = [0.59, 0.87, 0.89, 0.90, 0.97, 0.90, 0.89, 0.965, 0.96, 0.96, 0.96, 0.96, 0.96, 0.96, 0.96, 0.96, 0.96, 0.96, 0.96,
    0.96, 0.96, 0.96, 0.96, 0.96, 0.96, 0.96, 0.96, 0.95, 0.95,
    0.95, 0.94, 0.93, 0.92, 0.91, 0.90, 0.89, 0.88, 0.87, 0.86,
    0.85, 0.84, 0.83, 0.81, 0.80, 0.78, 0.77, 0.79, 0.75, 0.73,
    0.72, 0.71, 0.70, 0.72, 0.69, 0.67, 0.66, 0.66, 0.64, 0.62]
wf_spe_pca_out_x = [18, 19, 20, 21, 22, 23, 24, 25, 26, 28, 29, 30, 32, 33, 48, 49]
wf_spe_pca_out_y = [0.66, 0.60, 0.55, 0.50, 0.46, 0.42, 0.37, 0.33, 0.30, 0.23, 0.20, 0.18, 0.25, 0.15, 0.63, 0.63]

wf_spe_spec_med = [0.26, 0.73, 0.84, 0.85, 0.85, 0.86, 0.86, 0.86, 0.947, 0.98, 0.975, 0.97, 0.97, 0.97, 0.97, 0.97, 0.97, 0.965, 0.965,
    0.96, 0.96, 0.96, 0.96, 0.96, 0.955, 0.94, 0.925, 0.91, 0.895,
    0.88, 0.865, 0.85, 0.82, 0.79, 0.76, 0.727, 0.70, 0.683, 0.655,
    0.63, 0.615, 0.60, 0.59, 0.586, 0.57, 0.56, 0.53, 0.507, 0.485,
    0.463, 0.455, 0.45, 0.43, 0.41, 0.39, 0.374, 0.35, 0.33, 0.295]
wf_spe_spec_q1 = [0.25, 0.71, 0.83, 0.84, 0.84, 0.85, 0.85, 0.85, 0.935, 0.97, 0.965, 0.96, 0.955, 0.95, 0.95, 0.945, 0.94, 0.93, 0.93,
    0.92, 0.91, 0.91, 0.90, 0.90, 0.89, 0.87, 0.85, 0.83, 0.81,
    0.79, 0.77, 0.75, 0.72, 0.68, 0.65, 0.61, 0.58, 0.56, 0.53,
    0.50, 0.48, 0.47, 0.46, 0.45, 0.43, 0.42, 0.39, 0.37, 0.35,
    0.33, 0.32, 0.31, 0.30, 0.28, 0.26, 0.25, 0.23, 0.21, 0.18]
wf_spe_spec_q3 = [0.27, 0.75, 0.85, 0.86, 0.86, 0.87, 0.87, 0.87, 0.955, 0.985, 0.98, 0.98, 0.98, 0.98, 0.98, 0.98, 0.98, 0.98, 0.98,
    0.98, 0.98, 0.98, 0.98, 0.98, 0.98, 0.97, 0.96, 0.95, 0.94,
    0.93, 0.92, 0.91, 0.89, 0.87, 0.85, 0.82, 0.80, 0.79, 0.77,
    0.75, 0.74, 0.73, 0.72, 0.71, 0.70, 0.69, 0.66, 0.64, 0.62,
    0.60, 0.59, 0.59, 0.57, 0.55, 0.53, 0.51, 0.49, 0.47, 0.43]
wf_spe_spec_lo = [0.24, 0.69, 0.82, 0.83, 0.83, 0.84, 0.84, 0.84, 0.92, 0.96, 0.95, 0.94, 0.93, 0.92, 0.91, 0.90, 0.89, 0.87, 0.86,
    0.82, 0.80, 0.78, 0.76, 0.74, 0.71, 0.68, 0.65, 0.62, 0.58,
    0.55, 0.52, 0.49, 0.46, 0.43, 0.40, 0.37, 0.34, 0.31, 0.28,
    0.25, 0.23, 0.21, 0.19, 0.17, 0.15, 0.13, 0.12, 0.11, 0.10,
    0.09, 0.08, 0.07, 0.06, 0.06, 0.05, 0.05, 0.05, 0.05, 0.05]
wf_spe_spec_hi = [0.28, 0.77, 0.86, 0.87, 0.87, 0.88, 0.88, 0.88, 0.965, 0.99, 0.99, 0.99, 0.99, 0.99, 0.99, 0.99, 0.99, 0.99, 0.99,
    0.99, 0.99, 0.99, 0.99, 0.99, 0.99, 0.98, 0.98, 0.98, 0.97,
    0.97, 0.96, 0.96, 0.95, 0.95, 0.94, 0.93, 0.92, 0.91, 0.90,
    0.89, 0.88, 0.87, 0.86, 0.85, 0.84, 0.83, 0.81, 0.80, 0.78,
    0.77, 0.75, 0.74, 0.72, 0.70, 0.69, 0.67, 0.66, 0.64, 0.62]
wf_spe_spec_out_x = [14, 15, 16, 17, 18, 19, 20, 21, 30, 31, 32, 47]
wf_spe_spec_out_y = [0.77, 0.72, 0.68, 0.66, 0.64, 0.62, 0.59, 0.57, 0.25, 0.28, 0.23, 0.75]

# ---------------- assemble ----------------
G = globals()
FKEY = {"No Gene Filter": "nf", "With Gene Filter": "wf"}
DKEY = {"Euclidean": "euc", "Pearson": "pea", "Spearman": "spe"}
SKEY = {"PCA": "pca", "Spectral": "spec"}
COLORS = {"PCA": COL_PCA, "Spectral": COL_SPEC}
OFFS = {"PCA": -0.2, "Spectral": 0.2}

def series_data(f, d, s):
    pre = FKEY[f] + "_" + DKEY[d] + "_" + SKEY[s] + "_"
    box = {k: G[pre + k] for k in ["med", "q1", "q3", "lo", "hi"]}
    for k, v in box.items():
        if len(v) != len(X_POS):
            raise ValueError("%s%s has %d values" % (pre, k, len(v)))
    box["x"] = X_POS
    out = {"x": G[pre + "out_x"], "y": G[pre + "out_y"]}
    return box, out

# layout geometry (pixels)
TOP_PAD = 8
ARI_W = 46
LEFT_B = 62
GAP_W = 16
STRIP = 48
FRAME_W = 492
FRAME_H = 239
BOTTOM_B = 40
XLAB_H = 31
ROW_BORDERS = [(0, 13), (4, 13), (4, BOTTOM_B)]
XR = (-1.85, 51.75)
YR = (-0.009, 1.044)
Y_PER_PX = (YR[1] - YR[0]) / FRAME_H
STRIP_TOP = YR[1] + STRIP * Y_PER_PX     # facet strip drawn above the panel, inside the top-row figures
MAIN_W = LEFT_B + FRAME_W + GAP_W + FRAME_W + STRIP
TOTAL_H = TOP_PAD + STRIP + sum(t + FRAME_H + b for t, b in ROW_BORDERS) + XLAB_H

def make_panel(f, d, is_left, is_bottom, top_b, bot_b, strip_text=None):
    lb = LEFT_B if is_left else GAP_W
    extra = STRIP if strip_text else 0
    ytop = STRIP_TOP if strip_text else YR[1]
    p = figure(width=lb + FRAME_W, height=top_b + extra + FRAME_H + bot_b,
               x_range=Range1d(*XR), y_range=Range1d(YR[0], ytop), title=None,
               toolbar_location=None, output_backend="svg",
               x_axis_location="below" if is_bottom else None,
               y_axis_location="left" if is_left else None)
    p.min_border_left = lb
    p.min_border_right = 0
    p.min_border_top = top_b
    p.min_border_bottom = bot_b
    p.background_fill_color = "white"
    p.border_fill_color = "white"
    p.outline_line_color = None
    p.xgrid.ticker = FixedTicker(ticks=X_TICKS, minor_ticks=X_MINOR)
    p.ygrid.ticker = FixedTicker(ticks=Y_TICKS, minor_ticks=Y_MINOR)
    for g in (p.xgrid, p.ygrid):
        g.grid_line_color = "#E3E3E3"
        g.grid_line_width = 1.1
        g.minor_grid_line_color = "#F1F1F1"
        g.minor_grid_line_width = 1
    if is_left:
        ax = p.yaxis[0]
        ax.ticker = FixedTicker(ticks=Y_TICKS)
        ax.formatter = PrintfTickFormatter(format="%.2f")
        ax.major_label_standoff = 6
    if is_bottom:
        ax = p.xaxis[0]
        ax.ticker = FixedTicker(ticks=X_TICKS)
        ax.major_label_standoff = 9
    for ax in p.xaxis + p.yaxis:
        ax.axis_line_color = None
        ax.major_tick_out = 6
        ax.major_tick_in = 0
        ax.minor_tick_out = 0
        ax.minor_tick_in = 0
        ax.major_tick_line_color = "#555555"
        ax.major_tick_line_width = 1.3
        ax.major_label_text_font = FONT
        ax.major_label_text_font_size = "24px"
        ax.major_label_text_color = "#1A1A1A"

    srcs = {}
    for s in SERIES:
        box, out = series_data(f, d, s)
        src = ColumnDataSource(box)
        osrc = ColumnDataSource(out)
        srcs[s] = src
        c = COLORS[s]
        xo = dodge("x", OFFS[s])
        p.segment(x0=xo, y0="lo", x1=xo, y1="hi", source=src, line_color=c, line_width=1.8)
        p.vbar(x=xo, width=0.36, bottom="q1", top="q3", source=src,
               fill_color=c, line_color=c, line_width=1)
        p.scatter(x=dodge("x", OFFS[s]), y="y", source=osrc, size=5.5,
                  fill_color=c, line_color=c)
    for s in SERIES:
        p.line(x=dodge("x", OFFS[s]), y="med", source=srcs[s], line_color=COLORS[s], line_width=3)
    # reference lines at d = 4% and 7%
    p.segment(x0=VLINES, y0=[YR[0]] * len(VLINES), x1=VLINES, y1=[YR[1]] * len(VLINES),
              line_color="black", line_width=2)
    # panel border
    p.quad(left=[XR[0]], right=[XR[1]], bottom=[YR[0]], top=[YR[1]], fill_color=None,
           line_color="#7F7F7F", line_width=1.3)
    if strip_text:
        p.quad(left=[XR[0]], right=[XR[1]], bottom=[YR[1]], top=[STRIP_TOP],
               fill_color="#CCCCCC", line_color="#A3A3A3", line_width=1)
        p.text(x=[(XR[0] + XR[1]) / 2], y=[(YR[1] + STRIP_TOP) / 2], text=[strip_text],
               text_font=value(FONT), text_font_size=value("24px"), text_align="center",
               text_baseline="middle", text_color="#1A1A1A")
    return p

def plain(width, height, xr, yr):
    q = figure(width=width, height=height, x_range=Range1d(*xr), y_range=Range1d(*yr),
               title=None, toolbar_location=None, output_backend="svg",
               x_axis_location=None, y_axis_location=None)
    q.min_border_left = 0
    q.min_border_right = 0
    q.min_border_top = 0
    q.min_border_bottom = 0
    q.xgrid.visible = False
    q.ygrid.visible = False
    q.outline_line_color = None
    q.background_fill_color = "white"
    q.border_fill_color = "white"
    return q

def make_strip(text, blank_top, top_b, bot_b):
    # right-hand facet strip; its frame spans the same rows as the panel frames
    h = FRAME_H
    s = plain(STRIP, top_b + blank_top + h + bot_b, (0, 1), (0, 1 + blank_top / h))
    s.min_border_top = top_b
    s.min_border_bottom = bot_b
    s.quad(left=[0], right=[1], bottom=[0], top=[1], fill_color="#CCCCCC",
           line_color="#A3A3A3", line_width=1)
    s.text(x=[0.5], y=[0.5], text=[text], angle=-math.pi / 2, text_font=value(FONT),
           text_font_size=value("24px"), text_align="center", text_baseline="middle",
           text_color="#1A1A1A")
    return s

panel_rows = []
for i, d in enumerate(DISTANCES):
    tb, bb = ROW_BORDERS[i]
    bottom = (i == len(DISTANCES) - 1)
    first = (i == 0)
    pl = make_panel(FILTERS[0], d, True, bottom, tb, bb, FILTERS[0] if first else None)
    pr = make_panel(FILTERS[1], d, False, bottom, tb, bb, FILTERS[1] if first else None)
    st = make_strip(d, STRIP if first else 0, tb, bb)
    panel_rows.append(row(pl, pr, st))

xl = plain(MAIN_W, XLAB_H, (0, MAIN_W), (XLAB_H, 0))
xl.text(x=[LEFT_B + FRAME_W + GAP_W / 2], y=[15.5], text=["d as % of N"], text_font=value(FONT),
        text_font_size=value("29px"), text_align="center", text_baseline="middle",
        text_color="#111111")

main = column(Spacer(width=MAIN_W, height=TOP_PAD), *panel_rows, xl)

# y-axis title (page coordinates)
ari = plain(ARI_W, TOTAL_H, (0, ARI_W), (TOTAL_H, 0))
ari.text(x=[25], y=[432], text=["ARI"], angle=math.pi / 2, text_font=value(FONT),
         text_font_size=value("30px"), text_align="center", text_baseline="middle",
         text_color="#111111")

# legend (y in page coordinates)
LG_W = 238
lg = plain(LG_W, TOTAL_H, (0, LG_W), (TOTAL_H, 0))
lg.text(x=[31], y=[385], text=["Transformation"], text_font=value(FONT),
        text_font_size=value("29px"), text_align="left", text_baseline="middle",
        text_color="#111111")
key_tops = [404, 449]
for s, kt in zip(SERIES, key_tops):
    c = COLORS[s]
    lg.quad(left=[30], right=[76], top=[kt], bottom=[kt + 45], fill_color="white",
            line_color="#CCCCCC", line_width=1.5)
    lg.segment(x0=[53.5], y0=[kt + 5], x1=[53.5], y1=[kt + 38], line_color=c, line_width=2)
    lg.quad(left=[37], right=[70], top=[kt + 11], bottom=[kt + 26], fill_color="white",
            line_color=c, line_width=2)
    lg.segment(x0=[37], y0=[kt + 18.5], x1=[70], y1=[kt + 18.5], line_color=c, line_width=2)
    lg.text(x=[81], y=[kt + 22.5], text=[s], text_font=value(FONT),
            text_font_size=value("24px"), text_align="left", text_baseline="middle",
            text_color="#111111")

layout = row(ari, main, lg)
open("out.html", "w").write(file_html(layout, INLINE))
